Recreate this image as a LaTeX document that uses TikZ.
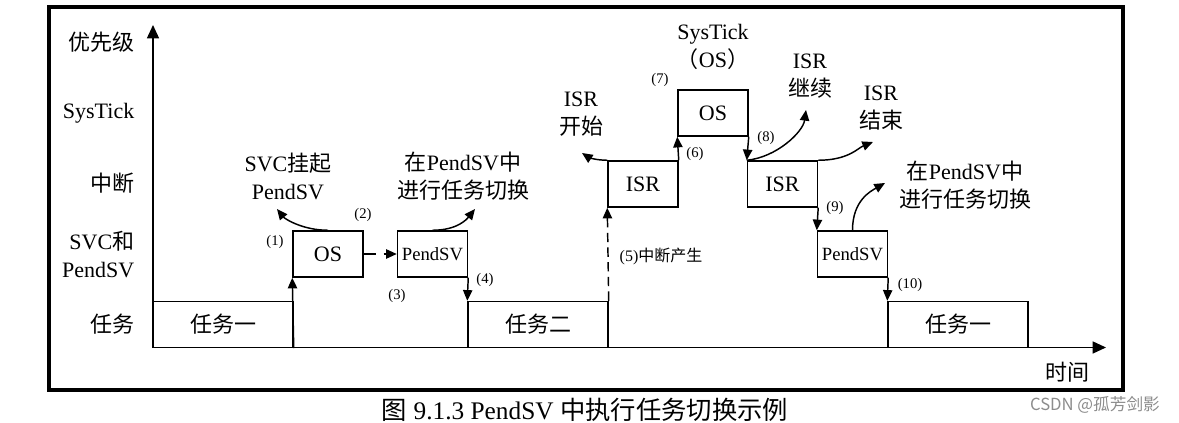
\documentclass[tikz,border=0pt]{standalone}
\usepackage{fontspec}
\setmainfont{Liberation Serif}
\newfontfamily\cjkfont{Noto Sans CJK SC}
\newcommand{\zh}[1]{{\cjkfont #1}}
\usetikzlibrary{arrows.meta}

\tikzset{
  blk/.style={draw, line width=1.1pt, inner sep=0pt, minimum width=52.5pt, minimum height=34.5pt},
  taskblk/.style={blk, minimum width=105pt},
  arr/.style={line width=1.1pt, -{Triangle[length=8pt,width=7pt]}},
  dasharr/.style={arr, dash pattern=on 7pt off 4pt},
  axis/.style={line width=1.1pt, -{Triangle[length=10pt,width=9pt]}},
  num/.style={font=\fontsize{11}{13}\selectfont},
  note/.style={align=center, font=\fontsize{16.5}{21}\selectfont},
}

\begin{document}
\begin{tikzpicture}[x=0.75pt,y=0.75pt,yscale=-1,xscale=1,font=\fontsize{16.5}{21}\selectfont]
\useasboundingbox (0,0) rectangle (1179,423);

%Frame
\draw[line width=3pt] (49,7) rectangle (1123,390);

%Axes
\coordinate (o) at (153,347.5);
\coordinate (ytip) at (153,25);
\coordinate (xtip) at (1106,347.5);
\draw[axis] (o) -- (ytip);
\draw[axis] (o) -- (xtip);

% Axis labels
\node[anchor=east] (lprio) at (139,42) {\zh{优先级}};
\node[anchor=east] (lsys) at (139,113) {SysTick};
\node[anchor=east] (lint) at (139,183) {\zh{中断}};
\node[anchor=east, align=right] (lsvc) at (139,255) {SVC\zh{和}\\PendSV};
\node[anchor=east] (ltask) at (139,324) {\zh{任务}};
\node (ltime) at (1067,372) {\zh{时间}};

%Blocks
\node[taskblk] (t1a) at (223,324.5) {\zh{任务一}};
\node[blk] (os1) at (328,254) {OS};
\node[blk, font=\fontsize{14}{16}\selectfont] (pa) at (432.5,254) {PendSV};
\node[taskblk] (t2) at (538,324.5) {\zh{任务二}};
\node[blk] (isr1) at (643,184) {ISR};
\node[blk] (os2) at (713,113) {OS};
\node[blk] (isr2) at (782.5,184) {ISR};
\node[blk, font=\fontsize{14}{16}\selectfont] (pb) at (852.5,254) {PendSV};
\node[taskblk] (t1b) at (958,324.5) {\zh{任务一}};

%Steps
\draw[arr] (t1a.south east) -- (os1.south west);
\draw[dasharr, dash pattern=on 9pt off 6pt] (os1.east) -- (pa.west);
\draw[arr] (pa.south east) -- (t2.north west);
\draw[dasharr] (t2.north east) -- (isr1.south west);
\draw[arr] (isr1.north east) -- (os2.south west);
\draw[arr] (os2.south east) -- (isr2.north west);
\draw[arr] (isr2.south east) -- (pb.north west);
\draw[arr] (pb.south east) -- (t1b.north west);

%Curved arrows
\coordinate (c1) at (277,209);
\coordinate (c2) at (475,209);
\coordinate (c3) at (582,153);
\coordinate (c4) at (806,110);
\coordinate (c5) at (873,142);
\coordinate (c6) at (885,183);
\draw[arr] (os1.north) .. controls +(-25,0) and +(8,10) .. (c1);
\draw[arr] (pa.north) .. controls +(25,0) and +(-8,10) .. (c2);
\draw[arr] (isr1.north west) .. controls +(-12,0) and +(6,4) .. (c3);
\draw[arr] (isr2.north west) .. controls +(30,-3) and +(-3,22) .. (c4);
\draw[arr] (isr2.north east) .. controls +(30,0) and +(-15,6) .. (c5);
\draw[arr] (pb.north) .. controls +(0,-30) and +(-14,8) .. (c6);

% Text Node
\node[note] (nsvc) at (288,176) {SVC\zh{挂起}\\PendSV};
\node[note] (nsw1) at (463,176) {\zh{在}PendSV\zh{中}\\\zh{进行任务切换}};
\node[note] (nstart) at (581,114) {ISR\\\zh{开始}};
\node[note] (nsys) at (713,47) {SysTick\\\zh{（}OS\zh{）}};
\node[note] (ncont) at (810,76) {ISR\\\zh{继续}};
\node[note] (nend) at (881,108) {ISR\\\zh{结束}};
\node[note] (nsw2) at (965,185) {\zh{在}PendSV\zh{中}\\\zh{进行任务切换}};

% Step numbers
\node[num] (n1) at (275,242) {(1)};
\node[num] (n2) at (363,215) {(2)};
\node[num] (n3) at (397,296) {(3)};
\node[num] (n4) at (485,280) {(4)};
\node[num, anchor=west, font=\fontsize{12}{14}\selectfont] (n5) at (615,256) {(5)\zh{中断产生}};
\node[num] (n6) at (695,154) {(6)};
\node[num] (n7) at (660,80) {(7)};
\node[num] (n8) at (766,138) {(8)};
\node[num] (n9) at (835,208) {(9)};
\node[num] (n10) at (910,285) {(10)};

% Caption
\node[font=\fontsize{19}{21}\selectfont] (cap) at (585,410) {\zh{图} 9.1.3 PendSV \zh{中执行任务切换示例}};
\node[font=\fontsize{12.5}{14}\selectfont, text=black!45] (mark) at (1095,405) {\cjkfont CSDN @孤芳剑影};

\end{tikzpicture}
\end{document}
